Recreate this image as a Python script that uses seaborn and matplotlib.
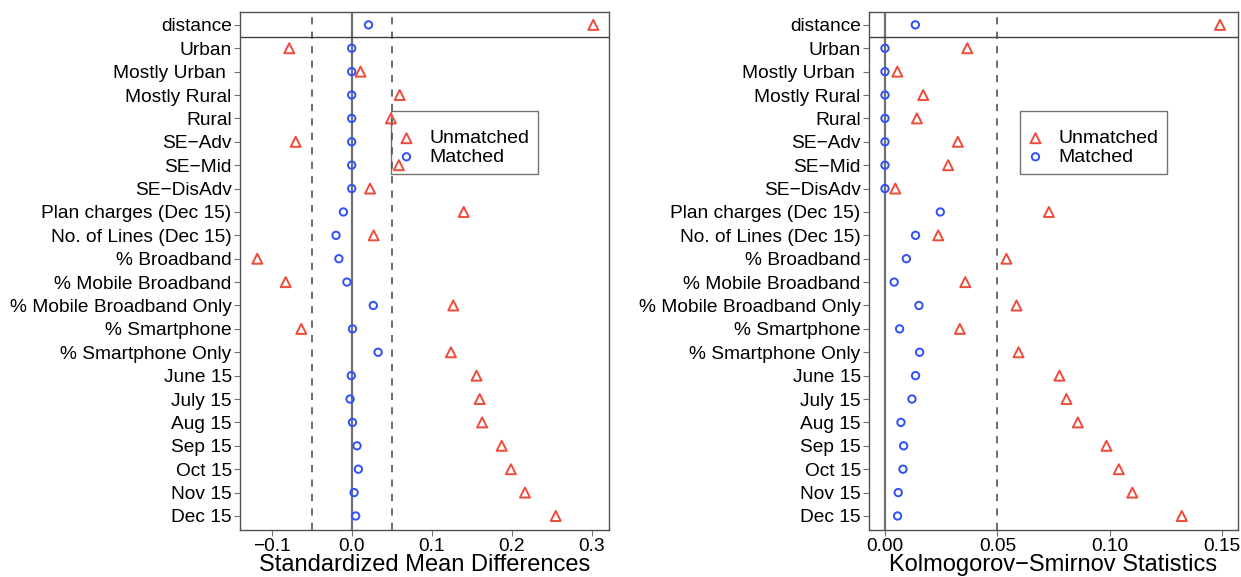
import numpy as np
import matplotlib
matplotlib.use('Agg')
import matplotlib.pyplot as plt
import pandas as pd
import seaborn as sns

# covariate names, top to bottom
covariates = ['distance', 'Urban', 'Mostly Urban ', 'Mostly Rural', 'Rural',
              'SE\u2212Adv', 'SE\u2212Mid', 'SE\u2212DisAdv',
              'Plan charges (Dec 15)', 'No. of Lines (Dec 15)',
              '% Broadband', '% Mobile Broadband', '% Mobile Broadband Only',
              '% Smartphone', '% Smartphone Only',
              'June 15', 'July 15', 'Aug 15', 'Sep 15', 'Oct 15', 'Nov 15', 'Dec 15']

# standardized mean differences
smd_unmatched = [0.302, -0.078, 0.011, 0.060, 0.049, -0.070, 0.059, 0.023,
                 0.140, 0.0275, -0.118, -0.0825, 0.127, -0.063, 0.124,
                 0.156, 0.160, 0.163, 0.1875, 0.199, 0.2166, 0.255]
smd_matched = [0.021, 0.0, 0.0, 0.0, 0.0, 0.0, 0.0, 0.0,
               -0.0104, -0.0196, -0.016, -0.006, 0.027, 0.001, 0.033,
               -0.0005, -0.002, 0.001, 0.0066, 0.0083, 0.003, 0.005]

# Kolmogorov-Smirnov statistics
ks_unmatched = [0.149, 0.0366, 0.0055, 0.017, 0.0142, 0.0324, 0.0281, 0.0046,
                0.0729, 0.0237, 0.054, 0.0357, 0.0585, 0.0333, 0.0594,
                0.0776, 0.0807, 0.0858, 0.0985, 0.104, 0.110, 0.132]
ks_matched = [0.0135, 0.0, 0.0, 0.0, 0.0, 0.0, 0.0, 0.0,
              0.0246, 0.0136, 0.0095, 0.0041, 0.0151, 0.0065, 0.0154,
              0.0136, 0.012, 0.0071, 0.0083, 0.008, 0.0059, 0.0056]

red = '#EE4B3B'
blue = '#3050F8'

sns.set_theme(style='white')
plt.rcParams['font.family'] = ['Liberation Sans', 'DejaVu Sans']
plt.rcParams['text.color'] = 'black'
plt.rcParams['axes.labelcolor'] = 'black'
plt.rcParams['xtick.labelcolor'] = 'black'
plt.rcParams['ytick.labelcolor'] = 'black'

fig = plt.figure(figsize=(12.41, 5.77), dpi=100)
W, H = 1241, 577
ax1 = fig.add_axes([240 / W, 47 / H, 369 / W, 518 / H])
ax2 = fig.add_axes([869 / W, 47 / H, 369 / W, 518 / H])


def panel(ax, unmatched, matched, xlim, xticks, xticklabels, xlabel, dashes):
    df_u = pd.DataFrame({'cov': covariates, 'val': unmatched})
    df_m = pd.DataFrame({'cov': covariates, 'val': matched})
    ax.axvline(0, color='#707070', lw=1.6, zorder=1)
    for d in dashes:
        ax.axvline(d, color='#606060', lw=1.3, ls=(0, (4, 4)), zorder=1)
    ax.axhline(0.5, color='#404040', lw=1.0, zorder=1)
    sns.scatterplot(data=df_u, x='val', y='cov', ax=ax, marker='^', s=52,
                    color=red, facecolor='none', edgecolor=red, linewidth=1.4,
                    label='Unmatched', zorder=3)
    sns.scatterplot(data=df_m, x='val', y='cov', ax=ax, marker='o', s=28,
                    color=blue, facecolor='none', edgecolor=blue, linewidth=1.4,
                    label='Matched', zorder=3)
    ax.set_xlim(*xlim)
    ax.set_ylim(len(covariates) - 1 + 0.6, -0.55)
    ax.set_xticks(xticks)
    ax.set_xticklabels(xticklabels)
    ax.set_xlabel(xlabel, fontsize=17, labelpad=-1)
    ax.set_ylabel('')
    ax.tick_params(axis='both', labelsize=13.8, length=4, width=0.8,
                   color='#707070', pad=2, left=True, bottom=True)
    for sp in ax.spines.values():
        sp.set_color('#505050')
        sp.set_linewidth(1.0)
    leg = ax.legend(loc='upper left', bbox_to_anchor=(0.409, 0.809),
                    borderaxespad=0, fontsize=14, frameon=True, fancybox=False,
                    handletextpad=0.8, labelspacing=0.05, borderpad=0.4,
                    handlelength=0.8, markerscale=1.0,
                    title=' ', title_fontsize=8)
    leg.get_frame().set_edgecolor('#505050')
    leg.get_frame().set_linewidth(1.0)
    leg.get_frame().set_facecolor('none')
    leg.set_zorder(2)


panel(ax1, smd_unmatched, smd_matched, (-0.1396, 0.3216),
      [-0.1, 0.0, 0.1, 0.2, 0.3], ['\u22120.1', '0.0', '0.1', '0.2', '0.3'],
      'Standardized Mean Differences', [-0.05, 0.05])
panel(ax2, ks_unmatched, ks_matched, (-0.0071, 0.157),
      [0.0, 0.05, 0.10, 0.15], ['0.00', '0.05', '0.10', '0.15'],
      'Kolmogorov\u2212Smirnov Statistics', [0.05])

fig.savefig('out.png', dpi=100)
